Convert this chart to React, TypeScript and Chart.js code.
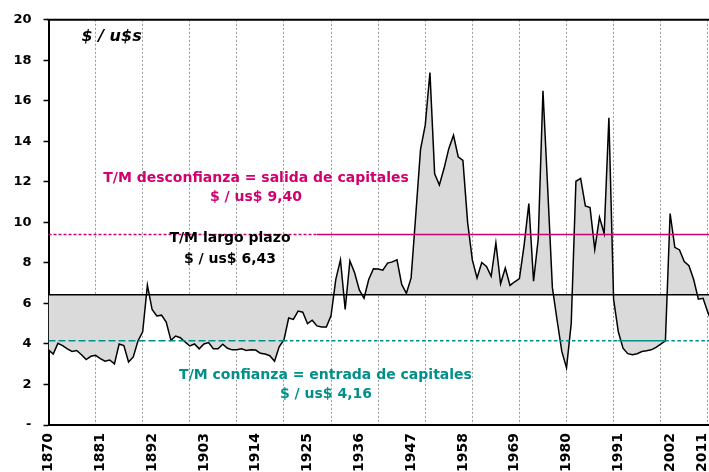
import React, { useEffect, useRef } from "react";
import { Chart, registerables } from "chart.js";

Chart.register(...registerables);

// ---- data ----
const years: number[] = [
  1870, 1871, 1872, 1873, 1874, 1875, 1876, 1877, 1878, 1879,
  1880, 1881, 1882, 1883, 1884, 1885, 1886, 1887, 1888, 1889,
  1890, 1891, 1892, 1893, 1894, 1895, 1896, 1897, 1898, 1899,
  1900, 1901, 1902, 1903, 1904, 1905, 1906, 1907, 1908, 1909,
  1910, 1911, 1912, 1913, 1914, 1915, 1916, 1917, 1918, 1919,
  1920, 1921, 1922, 1923, 1924, 1925, 1926, 1927, 1928, 1929,
  1930, 1931, 1932, 1933, 1934, 1935, 1936, 1937, 1938, 1939,
  1940, 1941, 1942, 1943, 1944, 1945, 1946, 1947, 1948, 1949,
  1950, 1951, 1952, 1953, 1954, 1955, 1956, 1957, 1958, 1959,
  1960, 1961, 1962, 1963, 1964, 1965, 1966, 1967, 1968, 1969,
  1970, 1971, 1972, 1973, 1974, 1975, 1976, 1977, 1978, 1979,
  1980, 1981, 1982, 1983, 1984, 1985, 1986, 1987, 1988, 1989,
  1990, 1991, 1992, 1993, 1994, 1995, 1996, 1997, 1998, 1999,
  2000, 2001, 2002, 2003, 2004, 2005, 2006, 2007, 2008, 2009,
  2010, 2011,
];

const exchangeRate: number[] = [
  3.71, 3.5, 4.03, 3.92, 3.76, 3.63, 3.68, 3.47, 3.23, 3.39,
  3.44, 3.28, 3.15, 3.21, 3.02, 4.0, 3.92, 3.11, 3.36, 4.15,
  4.6, 6.9, 5.7, 5.38, 5.42, 5.08, 4.18, 4.39, 4.31, 4.1,
  3.9, 4.0, 3.76, 4.0, 4.07, 3.76, 3.76, 3.99, 3.79, 3.71,
  3.71, 3.76, 3.68, 3.71, 3.7, 3.54, 3.5, 3.42, 3.15, 3.87,
  4.2, 5.28, 5.21, 5.62, 5.57, 5.0, 5.17, 4.89, 4.84, 4.84,
  5.4, 7.18, 8.15, 5.7, 8.1, 7.51, 6.67, 6.26, 7.18, 7.71,
  7.7, 7.64, 7.99, 8.05, 8.15, 6.94, 6.5, 7.26, 10.4, 13.6,
  14.8, 17.4, 12.4, 11.85, 12.67, 13.64, 14.3, 13.24, 13.06, 10.0,
  8.15, 7.26, 8.02, 7.83, 7.34, 8.99, 6.97, 7.75, 6.89, 7.07,
  7.23, 8.88, 10.93, 7.1, 9.2, 16.5, 11.7, 6.78, 5.17, 3.63,
  2.82, 5.0, 12.03, 12.17, 10.81, 10.73, 8.67, 10.25, 9.45, 15.17,
  6.2, 4.6, 3.79, 3.52, 3.47, 3.52, 3.63, 3.66, 3.71, 3.83,
  3.99, 4.15, 10.44, 8.77, 8.64, 8.07, 7.86, 7.18, 6.21, 6.25,
  5.57, 5.0,
];

const tickLabels: string[] = [
  "1870", "1881", "1892", "1903", "1914", "1925", "1936",
  "1947", "1958", "1969", "1980", "1991", "2002", "2011",
];

const longTermRate = 6.43;
const distrustRate = 9.4;
const trustRate = 4.16;

const yMin = 0;
const yMax = 20;
const yStep = 2;

// ---- styles ----
const MAGENTA = "#d2006f";
const TEAL = "#009089";
const FONT = '"DejaVu Sans", Verdana, sans-serif';
const VISIBLE_W = 709;
const CANVAS_W = 760;
const CANVAS_H = 472;

type Note = { text: string; x: number; y: number; color: string; font: string; align: CanvasTextAlign };

const notes: Note[] = [
  { text: "$ / u$s", x: 81.5, y: 40.5, color: "#000", font: `italic bold 16px ${FONT}`, align: "left" },
  { text: "T/M desconfianza = salida de capitales", x: 256, y: 181.7, color: MAGENTA, font: `bold 14px ${FONT}`, align: "center" },
  { text: "$ / us$ 9,40", x: 256, y: 200.7, color: MAGENTA, font: `bold 14px ${FONT}`, align: "center" },
  { text: "T/M largo plazo", x: 230, y: 242.3, color: "#000", font: `bold 14px ${FONT}`, align: "center" },
  { text: "$ / us$ 6,43", x: 230, y: 262.5, color: "#000", font: `bold 14px ${FONT}`, align: "center" },
  { text: "T/M confianza = entrada de capitales", x: 325.5, y: 379, color: TEAL, font: `bold 14px ${FONT}`, align: "center" },
  { text: "$ / us$ 4,16", x: 326, y: 398.3, color: TEAL, font: `bold 14px ${FONT}`, align: "center" },
];

const decorPlugin = {
  id: "decor",
  afterDraw(chart: any) {
    const { ctx, chartArea, scales } = chart;
    ctx.save();
    // top frame line
    ctx.strokeStyle = "#000";
    ctx.lineWidth = 2;
    ctx.beginPath();
    ctx.moveTo(chartArea.left - 1, chartArea.top);
    ctx.lineTo(chartArea.right, chartArea.top);
    ctx.stroke();

    // annotations
    ctx.textBaseline = "alphabetic";
    for (const n of notes) {
      ctx.font = n.font;
      ctx.fillStyle = n.color;
      ctx.textAlign = n.align;
      ctx.fillText(n.text, n.x, n.y);
    }

    // last category label, kept inside the visible chart
    const xs = scales.x;
    const lastIdx = years.length - 1;
    const lastLabel = tickLabels[tickLabels.length - 1];
    const px = Math.min(xs.getPixelForValue(lastIdx), VISIBLE_W - 7);
    ctx.translate(px, xs.top + 8);
    ctx.rotate(-Math.PI / 2);
    ctx.font = `bold 14px ${FONT}`;
    ctx.fillStyle = "#000";
    ctx.textAlign = "right";
    ctx.textBaseline = "middle";
    ctx.fillText(lastLabel, 0, 0);
    ctx.restore();
  },
};

export default function App() {
  const canvasRef = useRef<HTMLCanvasElement | null>(null);

  useEffect(() => {
    document.body.style.margin = "0";
    const canvas = canvasRef.current;
    if (!canvas) return;
    const constant = (v: number) => years.map(() => v);

    const chart = new Chart(canvas, {
      type: "line",
      data: {
        labels: years.map(String),
        datasets: [
          {
            label: "T/M desconfianza",
            data: constant(distrustRate),
            borderColor: MAGENTA,
            borderWidth: 1.5,
            pointRadius: 0,
            fill: false,
            segment: {
              borderDash: (c: any) => (c.p0DataIndex < 57 ? [3, 2] : []),
            },
          },
          {
            label: "T/M largo plazo",
            data: constant(longTermRate),
            borderColor: "#000",
            borderWidth: 1.5,
            pointRadius: 0,
            fill: false,
          },
          {
            label: "T/M confianza",
            data: constant(trustRate),
            borderColor: TEAL,
            borderWidth: 1.5,
            pointRadius: 0,
            fill: false,
            segment: {
              borderDash: (c: any) => {
                const i = c.p0DataIndex;
                if (i < 50) return [7, 3];
                if (i >= 121 && i < 131) return [];
                return [3.5, 2.5];
              },
            },
          },
          {
            label: "$ / u$s",
            data: exchangeRate,
            borderColor: "#000",
            borderWidth: 1.5,
            pointRadius: 0,
            tension: 0,
            backgroundColor: "#dadada",
            fill: { value: longTermRate },
          },
        ],
      },
      options: {
        responsive: false,
        animation: false,
        events: [],
        layout: { padding: { left: 0, top: 12, right: CANVAS_W - 712.5, bottom: 0 } },
        plugins: {
          legend: { display: false },
          tooltip: { enabled: false },
        },
        scales: {
          x: {
            type: "category",
            offset: false,
            ticks: {
              autoSkip: false,
              minRotation: 90,
              maxRotation: 90,
              padding: 8,
              color: "#000",
              font: { family: FONT, weight: "bold", size: 14 },
              callback: (_v: any, index: number) => {
                const lbl = String(years[index]);
                return index % 11 === 0 && tickLabels.includes(lbl) ? lbl : "";
              },
            },
            grid: {
              drawTicks: false,
              lineWidth: 1,
              color: (c: any) => (c.index % 10 === 0 && c.index > 0 ? "#9a9a9a" : "rgba(0,0,0,0)"),
            },
            border: { display: true, color: "#000", width: 2, dash: [2, 2] },
            afterFit: (s: any) => {
              s.height = 47;
            },
          },
          y: {
            min: yMin,
            max: yMax,
            ticks: {
              stepSize: yStep,
              padding: 12,
              color: "#000",
              font: { family: FONT, weight: "bold", size: 13 },
              callback: (v: any) => (Number(v) === 0 ? "-" : String(v)),
            },
            grid: {
              drawOnChartArea: false,
              drawTicks: true,
              tickLength: 5,
              tickColor: "#000",
              tickWidth: 1.5,
            },
            border: { display: true, color: "#000", width: 2 },
            afterFit: (s: any) => {
              s.width = 48.5;
            },
          },
        },
      },
      plugins: [decorPlugin],
    } as any);

    return () => chart.destroy();
  }, []);

  return (
    <div style={{ width: VISIBLE_W, height: CANVAS_H, overflow: "hidden", position: "relative", background: "#fff" }}>
      <canvas ref={canvasRef} width={CANVAS_W} height={CANVAS_H} style={{ display: "block" }} />
    </div>
  );
}
